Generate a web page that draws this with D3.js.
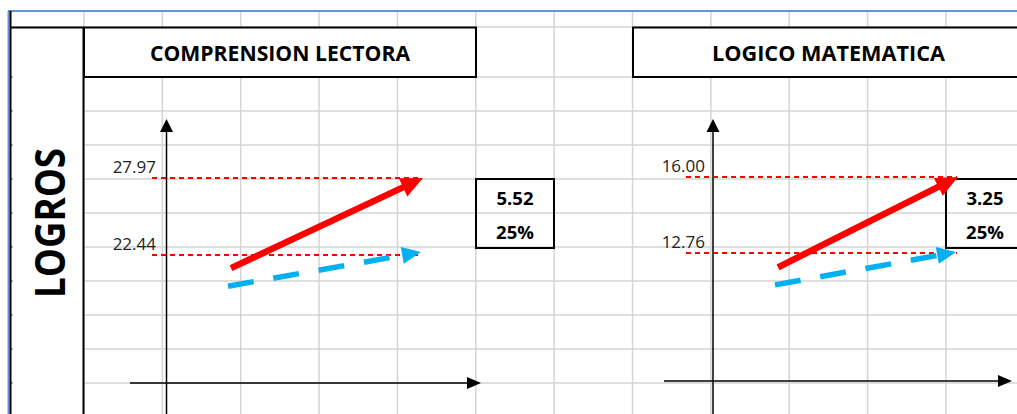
<!DOCTYPE html>
<html>
<head>
<meta charset="utf-8">
<script src="https://cdn.jsdelivr.net/npm/d3@7/dist/d3.min.js"></script>
<style>
  html, body { margin: 0; padding: 0; background: #fff; }
  svg { display: block; }
</style>
</head>
<body>
<div id="chart"></div>
<script>
// ---------- DATA ----------
const sideLabel = "LOGROS";
const subjects = ["COMPRENSION LECTORA", "LOGICO MATEMATICA"];
const metaValues = [27.97, 16.00];      // red arrow end / upper dashed line
const actualValues = [22.44, 12.76];    // lower dashed line
const redStartValues = [21.5, 12.15];   // red arrow tail
const blueStartValues = [20.2, 11.4];   // blue arrow tail
const blueEndValues = [22.65, 12.80];   // blue arrow tip
const diffLabels = ["5.52", "3.25"];
const pctLabels = ["25%", "25%"];

// ---------- LAYOUT ----------
const W = 1017, H = 414;
const colW = 78.36, col0 = 84;
const colXs = d3.range(0, 13).map(i => col0 + colW * i);
const rowYs = [27, 77].concat(d3.range(0, 10).map(k => 111 + 34 * k));

const layouts = [
  { titleX0: 84, titleX1: 476, axisX: 166.5, axisY: 383, hX0: 130, hX1: 481,
    dashX0: 152, dashX1: 421, x0: 231, x1: 423, yHiPix: 178, yLoPix: 255,
    boxX0: 476, boxX1: 554, labelRight: 156, valueX: 515, titleLen: 260 },
  { titleX0: 633, titleX1: 1024, axisX: 713, axisY: 381, hX0: 664, hX1: 1012,
    dashX0: 686, dashX1: 957, x0: 778, x1: 958, yHiPix: 177, yLoPix: 253,
    boxX0: 946, boxX1: 1024, labelRight: 705, valueX: 985, titleLen: 233 }
];

const svg = d3.select("#chart").append("svg")
  .attr("width", W).attr("height", H)
  .style("font-family", "'Open Sans', 'Liberation Sans', sans-serif");

svg.append("rect").attr("width", W).attr("height", H).attr("fill", "#fff");

// ---------- GRID ----------
const grid = svg.append("g").attr("stroke", "#d4d4d4").attr("stroke-width", 1.5);
grid.selectAll("line.v").data(colXs).join("line")
  .attr("x1", d => d).attr("x2", d => d).attr("y1", 11).attr("y2", H);
grid.selectAll("line.h").data(rowYs).join("line")
  .attr("x1", 10).attr("x2", W).attr("y1", d => d).attr("y2", d => d);

// merged cells (hide grid)
svg.append("rect").attr("x", 11).attr("y", 28).attr("width", 72).attr("height", H)
  .attr("fill", "#fff");
layouts.forEach(L => {
  svg.append("rect").attr("x", L.titleX0).attr("y", 27)
    .attr("width", L.titleX1 - L.titleX0).attr("height", 50).attr("fill", "#fff");
});

// left ticks on the LOGROS cell border
svg.append("g").attr("stroke", "#000").attr("stroke-width", 1)
  .selectAll("line").data(rowYs.slice(1)).join("line")
  .attr("x1", 10).attr("x2", 12.5).attr("y1", d => d).attr("y2", d => d);

// selection-like blue border
svg.append("line").attr("x1", 8).attr("x2", W).attr("y1", 11).attr("y2", 11)
  .attr("stroke", "#6a92d2").attr("stroke-width", 2);
svg.append("line").attr("x1", 8.5).attr("x2", 8.5).attr("y1", 11).attr("y2", H)
  .attr("stroke", "#6a92d2").attr("stroke-width", 2);

// black borders
const blk = svg.append("g").attr("stroke", "#000").attr("stroke-width", 2).attr("fill", "none");
blk.append("line").attr("x1", 10.5).attr("x2", 10.5).attr("y1", 11).attr("y2", H);
blk.append("line").attr("x1", 10).attr("x2", 84).attr("y1", 27.5).attr("y2", 27.5);
blk.append("line").attr("x1", 83.5).attr("x2", 83.5).attr("y1", 27).attr("y2", H);
layouts.forEach(L => {
  blk.append("rect").attr("x", L.titleX0).attr("y", 27.5)
    .attr("width", L.titleX1 - L.titleX0).attr("height", 49.5);
  blk.append("rect").attr("x", L.boxX0).attr("y", 179)
    .attr("width", L.boxX1 - L.boxX0).attr("height", 69);
});

// side label
svg.append("text").text(sideLabel)
  .attr("transform", "translate(65,223) rotate(-90)")
  .attr("text-anchor", "middle")
  .attr("font-weight", 700).attr("font-size", 42)
  .attr("textLength", 150).attr("lengthAdjust", "spacingAndGlyphs")
  .attr("fill", "#000");

// ---------- helpers ----------
function arrow(g, x0, y0, x1, y1, color, width, headL, headW, dash) {
  const a = Math.atan2(y1 - y0, x1 - x0);
  const bx = x1 - headL * Math.cos(a), by = y1 - headL * Math.sin(a);
  g.append("line").attr("x1", x0).attr("y1", y0)
    .attr("x2", bx + Math.cos(a)).attr("y2", by + Math.sin(a))
    .attr("stroke", color).attr("stroke-width", width)
    .attr("stroke-dasharray", dash || null);
  const px = -Math.sin(a) * headW / 2, py = Math.cos(a) * headW / 2;
  g.append("path")
    .attr("d", `M${x1},${y1}L${bx + px},${by + py}L${bx - px},${by - py}Z`)
    .attr("fill", color);
}

// ---------- PANELS ----------
subjects.forEach((subj, i) => {
  const L = layouts[i];
  const g = svg.append("g");
  const y = d3.scaleLinear().domain([actualValues[i], metaValues[i]]).range([L.yLoPix, L.yHiPix]);
  const x = d3.scaleLinear().domain([0, 1]).range([L.x0, L.x1]);

  // title
  g.append("text").text(subj)
    .attr("x", (L.titleX0 + L.titleX1) / 2).attr("y", 61)
    .attr("text-anchor", "middle").attr("font-weight", 700).attr("font-size", 21.5)
    .attr("textLength", L.titleLen).attr("lengthAdjust", "spacingAndGlyphs")
    .attr("fill", "#000");

  // axes
  g.append("line").attr("x1", L.axisX).attr("x2", L.axisX).attr("y1", 130).attr("y2", H)
    .attr("stroke", "#000").attr("stroke-width", 1.5);
  g.append("path").attr("d", `M${L.axisX},119L${L.axisX - 6.5},132L${L.axisX + 6.5},132Z`).attr("fill", "#000");
  g.append("line").attr("x1", L.hX0).attr("x2", L.hX1 - 12).attr("y1", L.axisY).attr("y2", L.axisY)
    .attr("stroke", "#000").attr("stroke-width", 1.5);
  g.append("path").attr("d", `M${L.hX1},${L.axisY}L${L.hX1 - 14},${L.axisY - 6}L${L.hX1 - 14},${L.axisY + 6}Z`).attr("fill", "#000");

  // dashed reference lines + labels
  [metaValues[i], actualValues[i]].forEach(v => {
    const yy = Math.round(y(v));
    g.append("line").attr("x1", L.dashX0).attr("x2", L.dashX1)
      .attr("y1", yy).attr("y2", yy)
      .attr("stroke", "#ff0000").attr("stroke-width", 1.8).attr("stroke-dasharray", "5,4");
    g.append("text").text(d3.format(".2f")(v))
      .attr("x", L.labelRight).attr("y", y(v) - 5)
      .attr("text-anchor", "end").attr("font-size", 17).attr("fill", "#222");
  });

  // arrows
  arrow(g, x(0) - 3, y(blueStartValues[i]), x(1) - 2, y(blueEndValues[i]), "#00b0f0", 5.5, 19, 17, "26,20");
  arrow(g, x(0), y(redStartValues[i]), x(1), y(metaValues[i]), "#ff0000", 6.5, 22, 20);

  // value box texts
  g.append("text").text(diffLabels[i]).attr("x", L.valueX).attr("y", 205)
    .attr("text-anchor", "middle").attr("font-weight", 700).attr("font-size", 18.5).attr("fill", "#000");
  g.append("text").text(pctLabels[i]).attr("x", L.valueX).attr("y", 238.5)
    .attr("text-anchor", "middle").attr("font-weight", 700).attr("font-size", 18.5).attr("fill", "#000");
});
</script>
</body>
</html>
